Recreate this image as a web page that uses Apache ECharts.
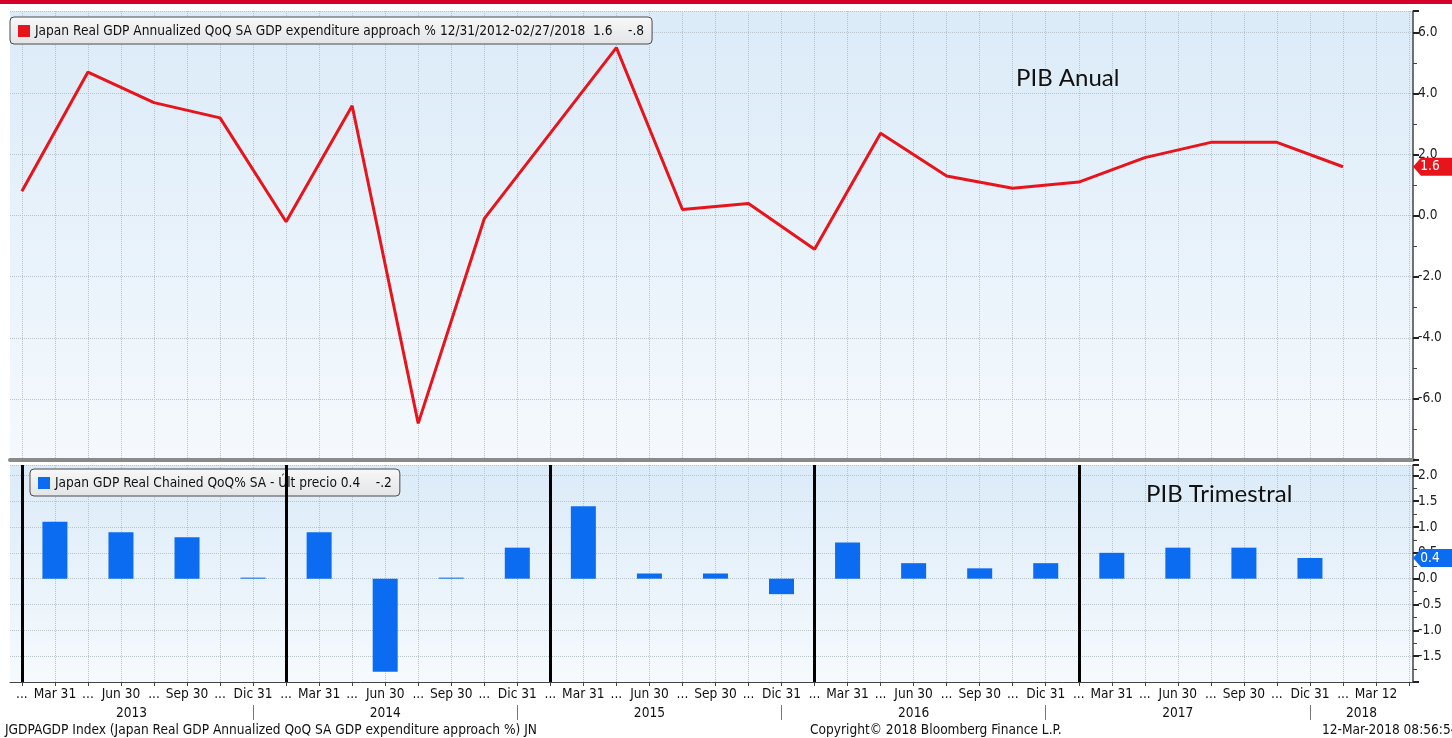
<!DOCTYPE html>
<html>
<head>
<meta charset="utf-8">
<script src="https://cdn.jsdelivr.net/npm/echarts@6/dist/echarts.min.js"></script>
<style>
  html, body { margin: 0; padding: 0; background: #fff; }
  #chart { width: 1452px; height: 738px; }
</style>
</head>
<body>
<div id="chart"></div>
<script>
// PIB anual (annualized QoQ), one point per quarter end, 12/31/2012 .. 12/31/2017
var lineDates = ['12/31/2012','03/31/2013','06/30/2013','09/30/2013','12/31/2013',
                 '03/31/2014','06/30/2014','09/30/2014','12/31/2014',
                 '03/31/2015','06/30/2015','09/30/2015','12/31/2015',
                 '03/31/2016','06/30/2016','09/30/2016','12/31/2016',
                 '03/31/2017','06/30/2017','09/30/2017','12/31/2017'];
var annualized = [0.8, 4.7, 3.7, 3.2, -0.2, 3.6, -6.8, -0.1, 2.7, 5.5, 0.2,
                  0.4, -1.1, 2.7, 1.3, 0.9, 1.1, 1.9, 2.4, 2.4, 1.6];

// PIB trimestral (QoQ), one bar per quarter, Q1 2013 .. Q4 2017
var quarterly = [1.1, 0.9, 0.8, 0.02, 0.9, -1.8, 0.02, 0.6, 1.4, 0.1,
                 0.1, -0.3, 0.7, 0.3, 0.2, 0.3, 0.5, 0.6, 0.6, 0.4];

// tick labels
var quarterLabels = ['Mar 31','Jun 30','Sep 30','Dic 31','Mar 31','Jun 30','Sep 30','Dic 31',
                     'Mar 31','Jun 30','Sep 30','Dic 31','Mar 31','Jun 30','Sep 30','Dic 31',
                     'Mar 31','Jun 30','Sep 30','Dic 31','Mar 12'];
var yearLabels = ['2013','2014','2015','2016','2017','2018'];

var lineName = 'Japan Real GDP Annualized QoQ SA GDP expenditure approach %';
var barName = 'Japan GDP Real Chained QoQ% SA';

var FONT = "'Liberation Sans Narrow', 'DejaVu Sans Condensed', 'Liberation Sans', sans-serif";
var xMin = -0.18, xMax = 21.06;

var lineData = annualized.map(function(v, i){ return [i, v]; });
var barData = quarterly.map(function(v, i){ return [i + 0.5, v]; });

var halfSteps = [];
for (var h = 0; h <= 21; h += 0.5) halfSteps.push(h);
// "..." at every quarter end, quarter label in the middle of each quarter
var labelSteps = [];
quarterLabels.forEach(function(l, i){ labelSteps.push(i, i + 0.5); });

var yearPos = [], yearSeps = [];
yearLabels.forEach(function(y, k){
    var a = Math.max(xMin, 4 * k - 0.5), b = Math.min(xMax, 4 * k + 3.5);
    yearPos.push((a + b) / 2);
    if (k < yearLabels.length - 1) yearSeps.push(4 * k + 3.5);
});
var yearLines = [];
for (var k = 0; k < 5; k++) yearLines.push({ xAxis: 4 * k });

function panelBg(c1, c2){
    return { type: 'linear', x: 0, y: 0, x2: 0, y2: 1,
             colorStops: [{ offset: 0, color: c1 }, { offset: 1, color: c2 }] };
}
var legendBg = { type: 'linear', x: 0, y: 0, x2: 0, y2: 1,
                 colorStops: [{ offset: 0, color: '#f8f8f8' }, { offset: 1, color: '#e2e4e6' }] };
var gridLine = { show: true, lineStyle: { type: 'dotted', color: '#b9c3cc', width: 1 } };
var tagPath = 'path://M0,9 L8,0 L46,0 L46,18 L8,18 Z';

var chart = echarts.init(document.getElementById('chart'));
var option = {
    animation: false,
    backgroundColor: '#ffffff',
    textStyle: { fontFamily: FONT },
    title: [
        { text: 'PIB Anual', left: 1011, top: 61,
          textStyle: { fontFamily: 'Lato, sans-serif', fontSize: 24, fontWeight: 'normal', color: '#111' } },
        { text: 'PIB Trimestral', left: 1141, top: 477,
          textStyle: { fontFamily: 'Lato, sans-serif', fontSize: 24, fontWeight: 'normal', color: '#111' } }
    ],
    legend: [
        { left: 10, top: 17, data: [lineName], icon: 'rect', itemWidth: 12, itemHeight: 12, itemGap: 4,
          padding: [7, 8, 6, 8], backgroundColor: legendBg, borderColor: '#4a4a4a', borderWidth: 1, borderRadius: 4,
          formatter: function(n){ return n + ' 12/31/2012-02/27/2018  1.6    -.8'; },
          textStyle: { fontFamily: FONT, fontSize: 13.6, color: '#111' } },
        { left: 30, top: 469, data: [barName], icon: 'rect', itemWidth: 12, itemHeight: 12,
          padding: [7, 8, 6, 8], backgroundColor: legendBg, borderColor: '#4a4a4a', borderWidth: 1, borderRadius: 4,
          formatter: function(n){ return n + ' - Últ precio 0.4    -.2'; },
          textStyle: { fontFamily: FONT, fontSize: 13.6, color: '#111' } }
    ],
    grid: [
        { left: 10, right: 39, top: 11, height: 449, show: true, borderWidth: 0,
          backgroundColor: panelBg('#dbebf8', '#f5f9fd') },
        { left: 10, right: 39, top: 465, height: 217, show: true, borderWidth: 0,
          backgroundColor: panelBg('#dbebf8', '#f6fafd') }
    ],
    xAxis: [
        { type: 'value', gridIndex: 0, min: xMin, max: xMax, position: 'bottom',
          axisLine: { show: true, onZero: false, lineStyle: { color: '#8a8a8a', width: 4 } },
          axisTick: { show: false, customValues: halfSteps },
          axisLabel: { show: false },
          splitLine: gridLine },
        { type: 'value', gridIndex: 1, min: xMin, max: xMax, position: 'bottom',
          axisLine: { show: true, onZero: false, lineStyle: { color: '#444', width: 1 } },
          axisTick: { show: true, length: 4, customValues: halfSteps, lineStyle: { color: '#444' } },
          axisLabel: { show: true, customValues: labelSteps, margin: 5, fontSize: 13.6, color: '#111',
                       fontFamily: FONT, hideOverlap: false, showMinLabel: true,
                       formatter: function(v){
                           if (v % 1 === 0) return '...';
                           return quarterLabels[Math.round(v - 0.5)];
                       } },
          splitLine: gridLine },
        { type: 'value', gridIndex: 1, min: xMin, max: xMax, position: 'bottom', offset: 23,
          axisLine: { show: false, onZero: false },
          axisTick: { show: true, length: 15, customValues: yearSeps, lineStyle: { color: '#777' } },
          axisLabel: { show: true, customValues: yearPos, margin: 1, fontSize: 13.6, color: '#111',
                       fontFamily: FONT,
                       formatter: function(v){
                           var best = 0;
                           yearPos.forEach(function(p, i){ if (Math.abs(p - v) < Math.abs(yearPos[best] - v)) best = i; });
                           return yearLabels[best];
                       } },
          splitLine: { show: false } }
    ],
    yAxis: [
        { type: 'value', gridIndex: 0, position: 'right', min: -8, max: 6.7, interval: 2,
          axisLine: { show: true, onZero: false, lineStyle: { color: '#444', width: 1.5 } },
          axisTick: { show: true, length: 6, lineStyle: { color: '#222', width: 2 } },
          minorTick: { show: true, splitNumber: 2, length: 4, lineStyle: { color: '#444' } },
          axisLabel: { margin: 5, fontSize: 13.6, color: '#222', fontFamily: FONT,
                       formatter: function(v){ return (v <= -8 || v % 2 !== 0) ? '' : v.toFixed(1); } },
          splitLine: gridLine },
        { type: 'value', gridIndex: 1, position: 'right', min: -2, max: 2.2, interval: 0.5,
          axisLine: { show: true, onZero: false, lineStyle: { color: '#444', width: 1.5 } },
          axisTick: { show: true, length: 6, lineStyle: { color: '#222', width: 2 } },
          minorTick: { show: true, splitNumber: 2, length: 4, lineStyle: { color: '#444' } },
          axisLabel: { margin: 5, fontSize: 13.6, color: '#222', fontFamily: FONT,
                       formatter: function(v){ return (v <= -2 || v > 2) ? '' : v.toFixed(1); } },
          splitLine: gridLine }
    ],
    series: [
        { name: lineName, type: 'line', xAxisIndex: 0, yAxisIndex: 0, data: lineData,
          symbol: 'none', color: '#e8141c', lineStyle: { width: 3, color: '#e8141c' },
          markPoint: { silent: true, symbol: tagPath, symbolSize: [46, 18], symbolOffset: [23, 0],
                       symbolKeepAspect: false, itemStyle: { color: '#e8141c' },
                       label: { show: true, color: '#fff', fontSize: 13.6, fontFamily: FONT, offset: [-6, 0],
                                formatter: function(){ return annualized[annualized.length - 1].toFixed(1); } },
                       data: [{ coord: [xMax, annualized[annualized.length - 1]] }] } },
        { name: barName, type: 'bar', xAxisIndex: 1, yAxisIndex: 1, data: barData,
          barWidth: 25, color: '#0b6cf2', itemStyle: { color: '#0b6cf2' },
          markLine: { silent: true, symbol: ['none', 'none'], label: { show: false },
                      lineStyle: { color: '#000', width: 3, type: 'solid' }, data: yearLines },
          markPoint: { silent: true, symbol: tagPath, symbolSize: [46, 18], symbolOffset: [23, 0],
                       symbolKeepAspect: false, itemStyle: { color: '#0b6cf2' },
                       label: { show: true, color: '#fff', fontSize: 13.6, fontFamily: FONT, offset: [-6, 0],
                                formatter: function(){ return quarterly[quarterly.length - 1].toFixed(1); } },
                       data: [{ coord: [xMax, quarterly[quarterly.length - 1]] }] } }
    ],
    graphic: [
        { type: 'rect', left: 0, top: 0, shape: { width: 1452, height: 4 }, style: { fill: '#d4002a' } },
        { type: 'text', left: 5, top: 723,
          style: { text: 'JGDPAGDP Index (Japan Real GDP Annualized QoQ SA GDP expenditure approach %) JN',
                   fontFamily: FONT, fontSize: 13.6, fill: '#111' } },
        { type: 'text', left: 810, top: 723,
          style: { text: 'Copyright\u00a9 2018 Bloomberg Finance L.P.', fontFamily: FONT, fontSize: 13.6, fill: '#111' } },
        { type: 'text', left: 1322, top: 723,
          style: { text: '12-Mar-2018 08:56:54', fontFamily: FONT, fontSize: 13.6, fill: '#111' } }
    ]
};
chart.setOption(option);
</script>
</body>
</html>
